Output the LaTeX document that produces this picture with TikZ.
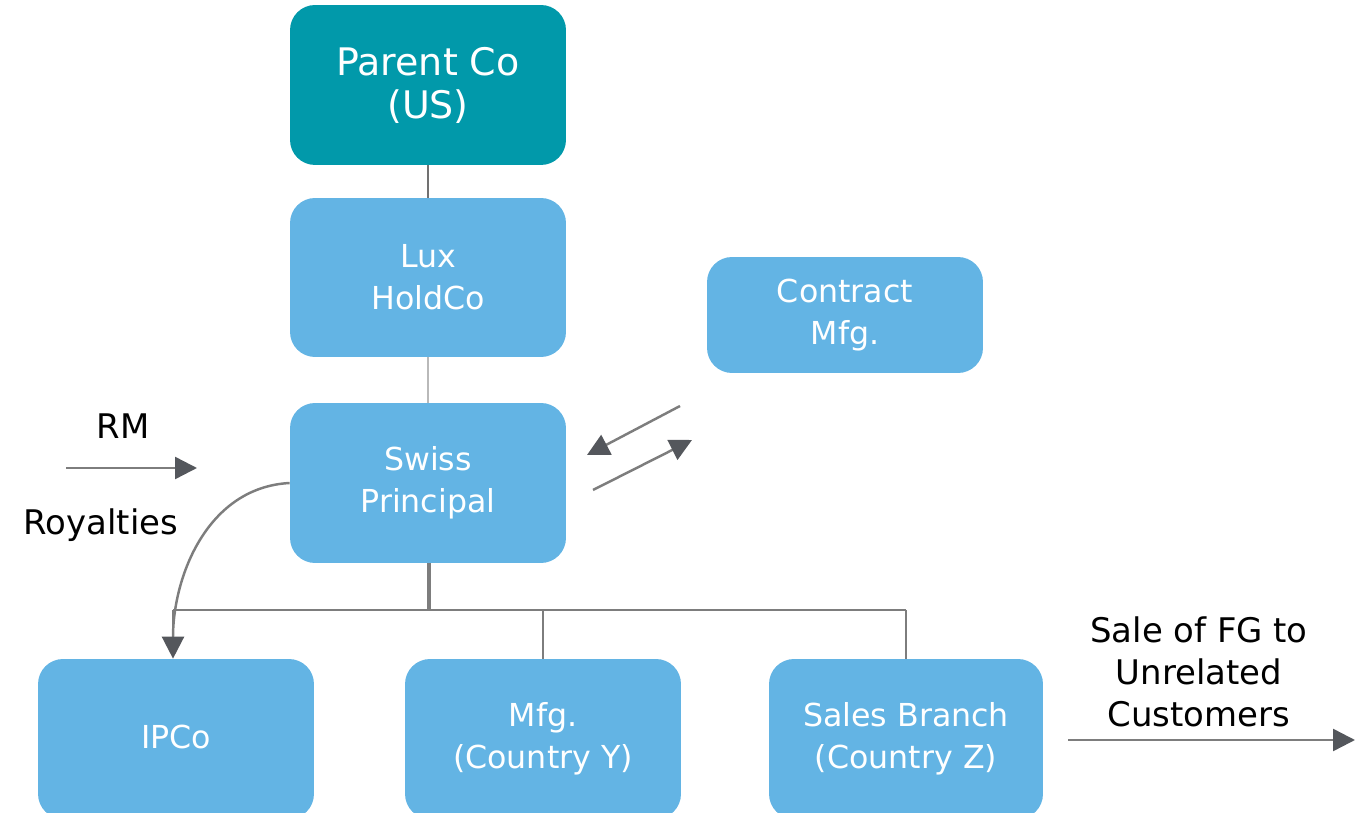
\documentclass[tikz,border=0pt]{standalone}
\usepackage{fontspec}
\setmainfont{DejaVu Sans}
\usetikzlibrary{arrows.meta, positioning, calc}
\definecolor{tealbox}{RGB}{1,153,170}
\definecolor{bluebox}{RGB}{99,180,228}
\definecolor{linegray}{RGB}{125,125,125}
\definecolor{lightline}{RGB}{185,185,185}
\definecolor{headgray}{RGB}{84,87,92}

\begin{document}
\begin{tikzpicture}[x=0.02cm, y=-0.02cm,
    entity/.style={rounded corners=0.5cm, fill=bluebox, text=white, align=center,
        minimum width=5.52cm, minimum height=3.2cm, inner sep=0pt,
        font=\fontsize{18}{24}\selectfont},
    flow/.style={draw=linegray, line width=1.4pt,
        -{Triangle[length=0.44cm, width=0.44cm, fill=headgray, color=headgray]}},
    tie/.style={draw=linegray, line width=1.4pt},
    lbl/.style={align=center, font=\fontsize{19.3}{24}\selectfont}]
    \useasboundingbox (0,0) rectangle (1362,813);
    \clip (0,0) rectangle (1362,813);
    % entities
    \node[entity, fill=tealbox, font=\fontsize{21.6}{24.5}\selectfont] (parent) at (428,85) {Parent Co\\(US)};
    \node[entity, minimum height=3.18cm] (lux) at (428,277.5) {Lux\\HoldCo};
    \node[entity, minimum height=2.32cm] (contract) at (845,315) {Contract\\Mfg.};
    \node[entity] (swiss) at (428,483) {Swiss\\Principal};
    \node[entity] (ipco) at (176,739) {\raisebox{2pt}{IPCo}};
    \node[entity] (mfgy) at (543,739) {Mfg.\\(Country Y)};
    \node[entity, minimum width=5.48cm] (sales) at (906,739) {Sales Branch\\(Country Z)};
    % ownership lines
    \draw[tie, line width=1.2pt, draw=linegray!90!black] (parent) -- (lux);
    \draw[tie, line width=1.2pt, draw=lightline] (lux) -- (swiss);
    \coordinate (bus) at (429,610);
    \coordinate (busL) at (173,610);
    \coordinate (busR) at (906,610);
    \draw[tie, line width=1.8pt] (swiss.south -| bus) -- (bus);
    \draw[tie] (busL) -- (busR);
    \draw[tie] (mfgy.north |- bus) -- (mfgy.north);
    \draw[tie] (busR) -- (sales.north);
    \draw[tie] (busL) -- ($(ipco.north -| busL)+(0,-20)$);
    % flows
    \draw[flow] (swiss.west) to[out=183, in=90] (ipco.north -| busL);
    \coordinate (rmA) at (66,468);
    \coordinate (rmB) at (197,468);
    \draw[flow] (rmA) -- (rmB);
    \node[lbl] (rm) at (123,426) {RM};
    \node[lbl] (roy) at (101,525) {Royalties};
    \coordinate (inA) at (680,406);
    \coordinate (inB) at (587,455);
    \coordinate (outA) at (593,490);
    \coordinate (outB) at (692,440);
    \draw[flow] (inA) -- (inB);
    \draw[flow] (outA) -- (outB);
    \coordinate (saleA) at (1068,740);
    \coordinate (saleB) at (1355,740);
    \draw[flow] (saleA) -- (saleB);
    \node[lbl, font=\fontsize{19.3}{23.8}\selectfont] (sale) at (1199,672) {Sale of FG to\\Unrelated\\Customers};
\end{tikzpicture}
\end{document}
